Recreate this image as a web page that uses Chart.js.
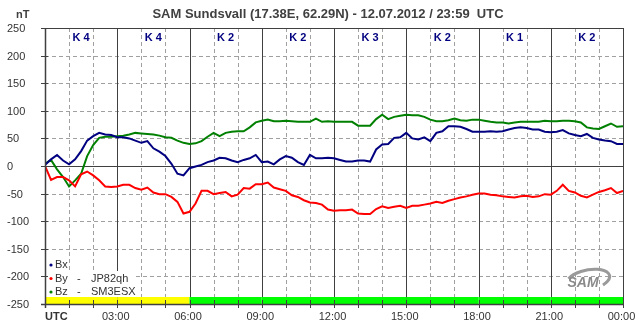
<!DOCTYPE html>
<html><head><meta charset="utf-8">
<script src="https://cdn.jsdelivr.net/npm/chart.js@4/dist/chart.umd.min.js"></script>
<style>html,body{margin:0;padding:0;background:#fff;}#wrap{width:643px;height:331px;position:relative;}</style>
</head><body><div id="wrap"><canvas id="c" width="643" height="331"></canvas></div>
<script>
const titleText = 'SAM Sundsvall (17.38E, 62.29N) - 12.07.2012 / 23:59  UTC';
const unitLabel = 'nT';
const xTickLabels = ['UTC','03:00','06:00','09:00','12:00','15:00','18:00','21:00','00:00'];
const yTicks = [250,200,150,100,50,0,-50,-100,-150,-200,-250];
const kIndex = [4,4,2,2,3,2,1,2];
const legendRows = [['Bx',''],['By','JP82qh'],['Bz','SM3ESX']];
const seriesColors = ['#000080','#ff0000','#008000'];
// values every 15 minutes, 00:00 .. 24:00
const bx = [2,12,20,10,3,12,27,46,54,60,57,56,52,52,50,46,42,45,32,26,18,4,-14,-17,
 -4,-1,2,7,10,15,14,10,7,11,14,20,7,8,3,12,18,15,7,2,20,14,14,15,
 14,11,8,8,10,10,8,30,39,40,51,52,60,50,48,52,45,60,63,72,72,71,67,62,
 62,62,63,62,63,66,69,70,69,66,66,62,61,62,65,59,56,54,58,51,48,46,45,40,40];
const by = [0,-25,-20,-20,-26,-37,-15,-10,-17,-26,-37,-38,-37,-34,-34,-40,-43,-39,-48,-51,-51,-56,-65,-86,
 -83,-68,-45,-45,-51,-49,-47,-55,-52,-40,-41,-33,-33,-30,-39,-42,-45,-53,-56,-62,-66,-67,-70,-79,
 -81,-80,-80,-79,-86,-87,-87,-78,-73,-76,-74,-72,-76,-72,-72,-70,-68,-65,-67,-63,-60,-57,-55,-52,
 -50,-50,-52,-53,-55,-56,-57,-55,-54,-56,-55,-51,-52,-45,-34,-45,-48,-54,-57,-52,-47,-44,-40,-49,-45];
const bz = [4,11,-6,-20,-37,-26,-14,18,38,51,53,53,54,55,57,60,59,58,57,55,52,51,46,42,
 40,41,45,53,60,54,60,62,63,63,70,79,82,84,81,81,82,81,80,80,80,86,80,81,
 80,80,80,80,73,73,73,85,93,85,89,91,93,92,92,89,84,81,81,83,86,83,82,84,
 84,82,80,79,79,77,79,80,80,80,80,82,81,81,82,82,81,79,70,68,67,72,77,71,72];

const FONT = '"Liberation Sans", Arial, sans-serif';
const toPts = arr => arr.map((v,i)=>({x:i,y:v}));

function seg(ctx,x0,y0,x1,y1){ctx.beginPath();ctx.moveTo(x0,y0);ctx.lineTo(x1,y1);ctx.stroke();}

const decor = {
  id:'decor',
  beforeDatasetsDraw(chart){
    const {ctx, chartArea:a, scales:{x,y}} = chart;
    ctx.save();
    ctx.lineWidth = 1;
    ctx.strokeStyle = '#a0a0a0';
    ctx.setLineDash([4,3]);
    yTicks.forEach(v=>{
      if (v===250||v===-250||v===0) return;
      const py = Math.round(y.getPixelForValue(v))+0.5;
      seg(ctx,a.left,py,a.right,py);
    });
    for (let h=1; h<24; h++){
      if (h%3===0) continue;
      const px = Math.round(x.getPixelForValue(h*4))+0.5;
      seg(ctx,px,a.top,px,a.bottom);
    }
    ctx.setLineDash([]);
    ctx.strokeStyle = '#404040';
    for (let h=3; h<24; h+=3){
      const px = Math.round(x.getPixelForValue(h*4))+0.5;
      seg(ctx,px,a.top,px,a.bottom);
    }
    const pz = Math.round(y.getPixelForValue(0))+0.5;
    seg(ctx,a.left,pz,a.right,pz);
    // K-index bar
    const yb0 = Math.round(y.getPixelForValue(-237));
    kIndex.forEach((k,i)=>{
      const x0 = x.getPixelForValue(i*12), x1 = x.getPixelForValue((i+1)*12);
      ctx.fillStyle = k>=4 ? '#ffff00' : '#00ff00';
      ctx.fillRect(x0, yb0, x1-x0, a.bottom-yb0);
    });
    // legend background
    ctx.fillStyle = '#fff';
    ctx.fillRect(a.left+2, 259, 20, 12);
    ctx.fillRect(a.left+2, 271, 88, yb0-271);
    ctx.restore();
  },
  afterDatasetsDraw(chart){
    const {ctx, chartArea:a, scales:{x,y}} = chart;
    ctx.save();
    ctx.strokeStyle = '#404040';
    ctx.lineWidth = 1;
    ctx.strokeRect(Math.round(a.left)+0.5, Math.round(a.top)+0.5, Math.round(a.right-a.left), Math.round(a.bottom-a.top));
    ctx.lineWidth = 1.5;
    seg(ctx,a.left+0.5,a.top,a.left+0.5,a.bottom+4);
    seg(ctx,a.left-4,a.bottom+0.5,a.right,a.bottom+0.5);
    ctx.lineWidth = 1;
    // y ticks + labels
    ctx.fillStyle = '#333';
    ctx.font = '11px '+FONT;
    ctx.textAlign = 'left'; ctx.textBaseline = 'middle';
    yTicks.forEach(v=>{
      const py = Math.round(y.getPixelForValue(v))+0.5;
      seg(ctx,a.left-4,py,a.left+3,py);
      ctx.fillText(String(v), 7, py);
    });
    // x ticks
    for (let h=0; h<=24; h++){
      const px = Math.round(x.getPixelForValue(h*4))+0.5;
      seg(ctx,px,a.bottom-4,px,a.bottom+4);
    }
    ctx.textBaseline = 'alphabetic';
    xTickLabels.forEach((t,i)=>{
      const px = x.getPixelForValue(i*12);
      if (i===0){ ctx.font='bold 11px '+FONT; ctx.textAlign='left'; ctx.fillText(t, px, a.bottom+16); }
      else { ctx.font='11px '+FONT; ctx.textAlign='center'; ctx.fillText(t, px-1.5, a.bottom+16); }
    });
    // title and unit
    ctx.fillStyle = '#404040';
    ctx.font = 'bold 13px '+FONT;
    ctx.textAlign='center';
    ctx.fillText(titleText, 328, 18);
    ctx.font = 'bold 11px '+FONT;
    ctx.textAlign='left';
    ctx.fillText(unitLabel, 16, 18);
    // K labels
    ctx.fillStyle = '#000080';
    ctx.font = 'bold 11px '+FONT;
    ctx.textAlign='center';
    kIndex.forEach((k,i)=>{
      const px = x.getPixelForValue(i*12+6);
      ctx.fillText('K '+k, px, a.top+13);
    });
    // legend
    ctx.font = '11px '+FONT;
    ctx.textAlign='left';
    legendRows.forEach((r,i)=>{
      const py = 265 + i*13.5;
      ctx.fillStyle = seriesColors[i];
      ctx.beginPath(); ctx.arc(a.left+6, py, 1.6, 0, Math.PI*2); ctx.fill();
      ctx.fillStyle = '#333';
      ctx.textBaseline='middle';
      ctx.fillText(r[0], a.left+10, py);
      if (r[1]){ ctx.fillText('-', a.left+32, py); ctx.fillText(r[1], a.left+46, py); }
    });
    // logo
    ctx.strokeStyle = '#9a9a9a'; ctx.lineWidth = 3;
    ctx.beginPath(); ctx.ellipse(588, 280, 22, 10, -0.2, -2.6, 0.9); ctx.stroke();
    ctx.fillStyle = '#8a8a8a';
    ctx.font = 'italic bold 14px '+FONT;
    ctx.textAlign='center'; ctx.textBaseline='middle';
    ctx.fillText('SAM', 583, 283);
    ctx.restore();
  }
};

new Chart(document.getElementById('c'), {
  type:'line',
  data:{ datasets:[
    {label:'Bx', data:toPts(bx), borderColor:seriesColors[0]},
    {label:'By', data:toPts(by), borderColor:seriesColors[1]},
    {label:'Bz', data:toPts(bz), borderColor:seriesColors[2]}
  ]},
  options:{
    responsive:false, animation:false, devicePixelRatio:1,
    layout:{padding:{left:45,right:20,top:28,bottom:27}},
    elements:{line:{borderWidth:2,tension:0}, point:{radius:0}},
    plugins:{legend:{display:false}, title:{display:false}, tooltip:{enabled:false}},
    scales:{
      x:{type:'linear', min:0, max:96, display:false},
      y:{min:-250, max:250, display:false}
    }
  },
  plugins:[decor]
});
</script></body></html>
